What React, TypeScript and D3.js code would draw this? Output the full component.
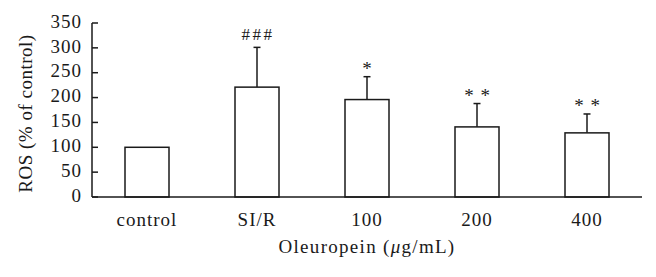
import React from "react";
import * as d3 from "d3";

const categories = ["control", "SI/R", "100", "200", "400"];
const means = [100, 221, 196, 141, 129];
const errors = [0, 80, 46, 47, 38];
const marks = ["", "###", "*", "* *", "* *"];
const yTicks = [0, 50, 100, 150, 200, 250, 300, 350];

const W = 656, H = 277;
const left = 92, right = 642, top = 23, bottom = 197;
const font = "'Liberation Serif', 'DejaVu Serif', serif";
const ink = "#1a1a1a";

export default function App() {
  const x = d3.scaleBand<string>().domain(categories).range([left, right]).paddingInner(0.6).paddingOuter(0.3);
  const y = d3.scaleLinear().domain([0, 350]).range([bottom, top]);
  const bw = x.bandwidth();
  return (
    <svg width={W} height={H} style={{ position: "absolute", left: 0, top: 0, background: "#fff" }}>
      {categories.map((c, i) => {
        const x0 = x(c)!;
        const cx = x0 + bw / 2;
        const e = errors[i];
        const isHash = marks[i].includes("#");
        return (
          <g key={c}>
            {e > 0 && (
              <g stroke={ink} strokeWidth={1.5}>
                <line x1={cx} x2={cx} y1={y(means[i])} y2={y(means[i] + e)} />
                <line x1={cx - 3.5} x2={cx + 3.5} y1={y(means[i] + e)} y2={y(means[i] + e)} />
              </g>
            )}
            <rect x={x0} y={y(means[i])} width={bw} height={bottom - y(means[i])} fill="#fff" stroke={ink} strokeWidth={1.5} />
            {marks[i] && (
              <text x={cx + (isHash ? 1 : 0.5)} y={y(means[i] + e) - (isHash ? 7 : 2)} textAnchor="middle" fontFamily={font} fontSize={isHash ? 17 : 19} letterSpacing={isHash ? 2.5 : 1} fill={ink}>
                {marks[i]}
              </text>
            )}
            <text x={cx} y={225.5} textAnchor="middle" fontFamily={font} fontSize={19} letterSpacing={1} fill={ink}>{c}</text>
          </g>
        );
      })}
      <line x1={left} x2={left} y1={top} y2={bottom} stroke={ink} strokeWidth={1.5} />
      <line x1={left} x2={right} y1={bottom} y2={bottom} stroke={ink} strokeWidth={1.5} />
      {yTicks.map((t) => (
        <g key={t}>
          <line x1={left} x2={left + 6} y1={y(t)} y2={y(t)} stroke={ink} strokeWidth={1.5} />
          <text x={left - 10} y={y(t) - 2} dy="0.35em" textAnchor="end" fontFamily={font} fontSize={19} letterSpacing={1} fill={ink}>{t}</text>
        </g>
      ))}
      <text transform={`translate(32,113.5) rotate(-90)`} textAnchor="middle" fontFamily={font} fontSize={19} letterSpacing={0.5} fill={ink}>
        ROS (% of control)
      </text>
      <text x={x("100")! + bw / 2} y={253} textAnchor="middle" fontFamily={font} fontSize={19} letterSpacing={1.3} fill={ink}>
        Oleuropein (<tspan fontStyle="italic">μ</tspan>g/mL)
      </text>
    </svg>
  );
}
